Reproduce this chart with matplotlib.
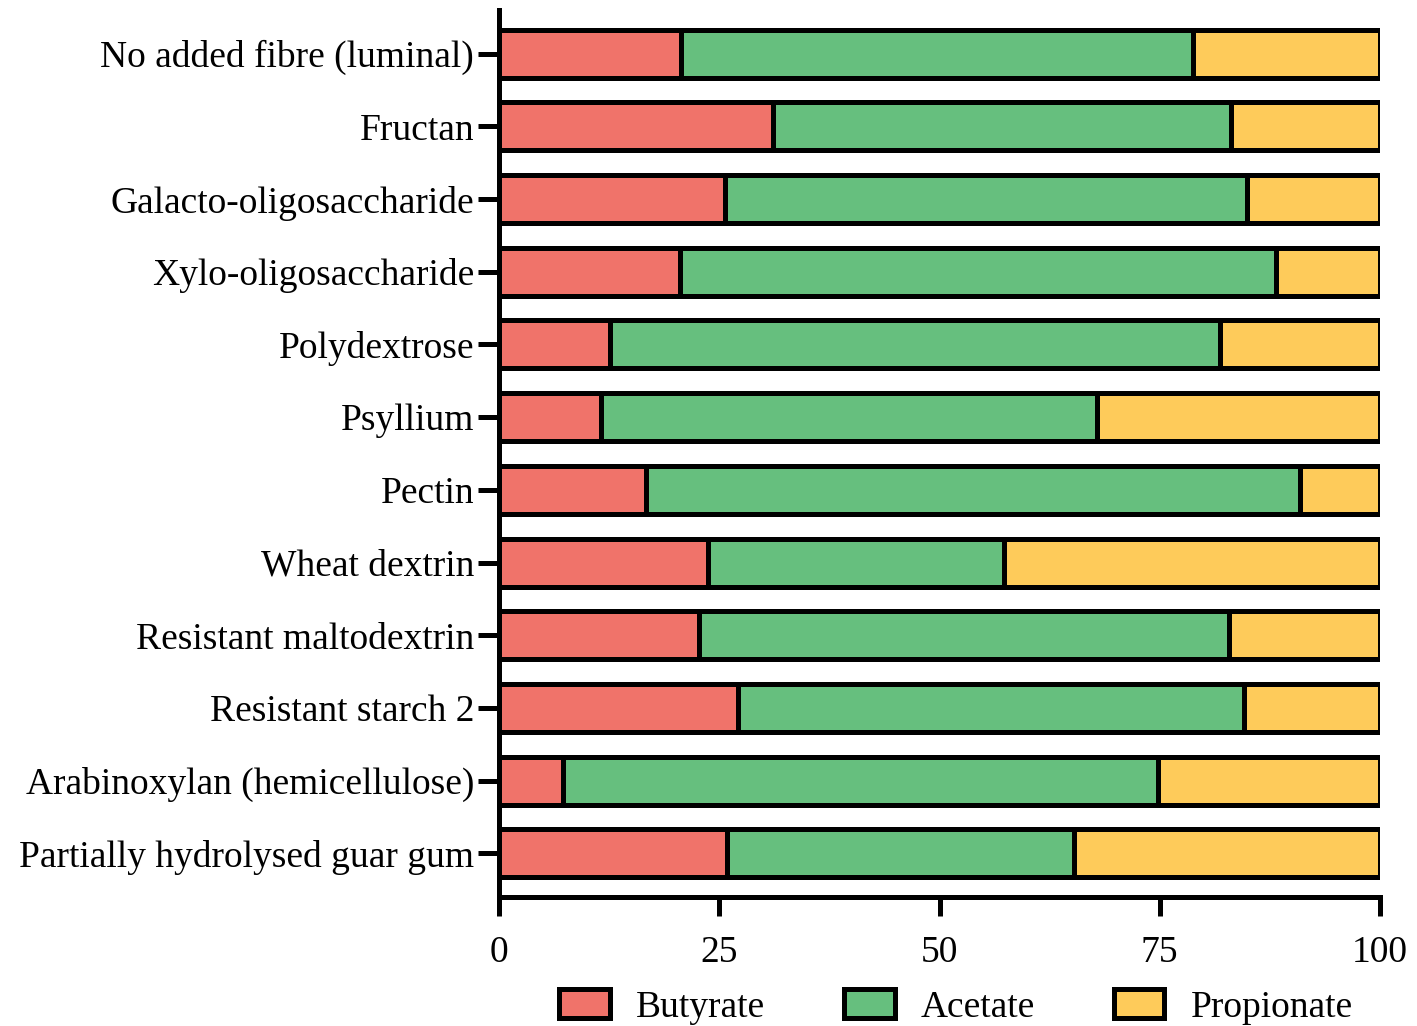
import numpy as np
import matplotlib.pyplot as plt
from matplotlib.patches import Patch

plt.rcParams['font.family'] = ['Liberation Serif', 'DejaVu Serif']

# fibre types, top to bottom
fibres = ["No added fibre (luminal)", "Fructan", "Galacto-oligosaccharide",
          "Xylo-oligosaccharide", "Polydextrose", "Psyllium", "Pectin",
          "Wheat dextrin", "Resistant maltodextrin", "Resistant starch 2",
          "Arabinoxylan (hemicellulose)", "Partially hydrolysed guar gum"]

# percent of total SCFA
butyrate = [20.7, 31.1, 25.7, 20.5, 12.6, 11.6, 16.7, 23.7, 22.7, 27.1, 7.3, 25.9]
acetate = [58.1, 52.0, 59.2, 67.7, 69.2, 56.3, 74.2, 33.6, 60.2, 57.5, 67.5, 39.4]
propionate = [100 - b - a for b, a in zip(butyrate, acetate)]

colors = {"Butyrate": "#F0736A", "Acetate": "#66BF7E", "Propionate": "#FECB5A"}

fig = plt.figure(figsize=(14.17, 10.26), dpi=100)
ax = fig.add_axes([499/1417, 1 - 897/1026, 881/1417, 887/1026])

y = np.arange(len(fibres))
left = np.zeros(len(fibres))
for name, vals in [("Butyrate", butyrate), ("Acetate", acetate), ("Propionate", propionate)]:
    ax.barh(y, vals, left=left, height=0.66, color=colors[name],
            edgecolor="black", linewidth=3.6, label=name)
    left += np.array(vals)

ax.set_ylim(len(fibres) - 0.4, -0.6)
ax.set_xlim(0, 100)
ax.set_yticks(y)
ax.set_yticklabels(fibres, fontsize=27)
ax.set_xticks([0, 25, 50, 75, 100])
ax.tick_params(axis="x", labelsize=27, width=3.6, length=14, pad=14)
ax.tick_params(axis="y", width=3.6, length=15, pad=3)

for s in ["top", "right"]:
    ax.spines[s].set_visible(False)
for s in ["left", "bottom"]:
    ax.spines[s].set_linewidth(3.6)

handles = [Patch(facecolor=colors[n], edgecolor="black", linewidth=3.6, label=n)
           for n in colors]
fig.legend(handles=handles, loc="center", bbox_to_anchor=(956/1417, 1 - 1007/1026),
           ncol=3, frameon=False, fontsize=27, handlelength=1.35, handleheight=0.8,
           columnspacing=2.1, handletextpad=0.7)

fig.savefig("out.png", dpi=100)
